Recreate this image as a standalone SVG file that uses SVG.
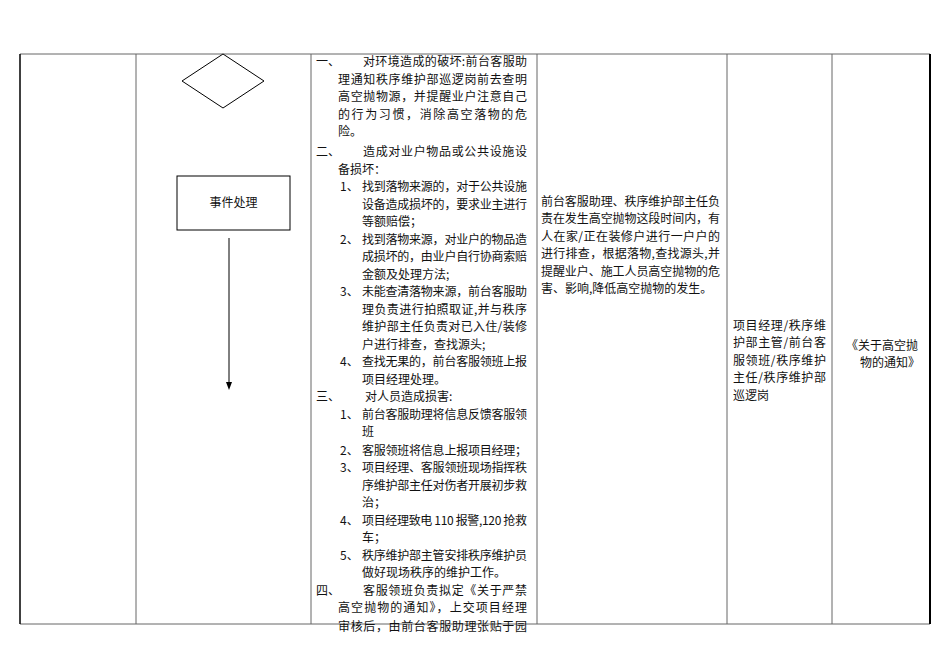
<svg xmlns="http://www.w3.org/2000/svg" width="950" height="672" viewBox="0 0 950 672">
<style>
.t{font-family:"Noto Sans CJK SC","Liberation Serif",serif;font-size:12px;fill:#111}
.g{stroke:#666;stroke-width:1;fill:none}
.s{stroke:#000;stroke-width:1;fill:#fff}
</style>
<defs><marker id="ah" markerWidth="8" markerHeight="8" refX="4" refY="7" orient="auto" markerUnits="userSpaceOnUse"><path d="M0,0 L4,8 L8,0 Z" transform="rotate(-90 4 4)" fill="#000"/></marker></defs>
<rect width="950" height="672" fill="#fff"/>
<g id="table">
<line class="g" x1="20" y1="54" x2="930" y2="54"/>
<line class="g" x1="20" y1="624" x2="930" y2="624" stroke="#999"/>
<line x1="20" y1="54" x2="20" y2="624" stroke="#000" stroke-width="1.5"/>
<line class="g" x1="136" y1="54" x2="136" y2="624"/>
<line class="g" x1="311" y1="54" x2="311" y2="624"/>
<line class="g" x1="537" y1="54" x2="537" y2="624"/>
<line class="g" x1="727" y1="54" x2="727" y2="624"/>
<line class="g" x1="832" y1="54" x2="832" y2="624" stroke="#aaa"/>
<line x1="930" y1="54" x2="930" y2="624" stroke="#000" stroke-width="2"/>
</g>
<g id="decision"><polygon class="s" points="223,54 264,81 223,108 182,81"/></g>
<g id="process"><rect class="s" x="177" y="176" width="113" height="54"/><text class="t" x="233.5" y="207" text-anchor="middle">事件处理</text></g>
<g id="connectors"><line x1="229" y1="238" x2="229" y2="384" stroke="#000" stroke-width="1"/><path d="M226,382 L229,390 L232,382 Z" fill="#000"/></g>
<g id="steps" class="t">
<text x="316" y="66">一、</text><text x="363" y="66" textLength="164">对环境造成的破坏:前台客服助</text>
<text x="338" y="84" textLength="189">理通知秩序维护部巡逻岗前去查明</text>
<text x="338" y="101" textLength="189">高空抛物源，并提醒业户注意自己</text>
<text x="338" y="119" textLength="189">的行为习惯，消除高空落物的危</text>
<text x="338" y="136">险。</text>
<text x="316" y="156">二、</text><text x="363" y="156" textLength="164">造成对业户物品或公共设施设</text>
<text x="338" y="174">备损坏：</text>
<text x="340" y="191">1、</text><text x="362" y="191" textLength="165">找到落物来源的，对于公共设施</text>
<text x="362" y="209" textLength="165">设备造成损坏的，要求业主进行</text>
<text x="362" y="226">等额赔偿；</text>
<text x="340" y="244">2、</text><text x="362" y="244" textLength="165">找到落物来源，对业户的物品造</text>
<text x="362" y="261" textLength="165">成损坏的，由业户自行协商索赔</text>
<text x="362" y="279">金额及处理方法;</text>
<text x="340" y="296">3、</text><text x="362" y="296" textLength="165">未能查清落物来源，前台客服助</text>
<text x="362" y="314" textLength="165">理负责进行拍照取证,并与秩序</text>
<text x="362" y="331" textLength="165">维护部主任负责对已入住/装修</text>
<text x="362" y="349">户进行排查，查找源头;</text>
<text x="340" y="366">4、</text><text x="362" y="366" textLength="165">查找无果的，前台客服领班上报</text>
<text x="362" y="384">项目经理处理。</text>
<text x="316" y="401">三、</text><text x="365" y="401">对人员造成损害:</text>
<text x="340" y="419">1、</text><text x="362" y="419" textLength="165">前台客服助理将信息反馈客服领</text>
<text x="362" y="436">班</text>
<text x="340" y="455">2、</text><text x="362" y="455" textLength="165">客服领班将信息上报项目经理；</text>
<text x="340" y="472">3、</text><text x="362" y="472" textLength="165">项目经理、客服领班现场指挥秩</text>
<text x="362" y="490" textLength="165">序维护部主任对伤者开展初步救</text>
<text x="362" y="507">治；</text>
<text x="340" y="525">4、</text><text x="362" y="525" textLength="165">项目经理致电 110 报警,120 抢救</text>
<text x="362" y="542">车；</text>
<text x="340" y="560">5、</text><text x="362" y="560" textLength="165">秩序维护部主管安排秩序维护员</text>
<text x="362" y="577">做好现场秩序的维护工作。</text>
<text x="316" y="595">四、</text><text x="363" y="595" textLength="164">客服领班负责拟定《关于严禁</text>
<text x="338" y="612" textLength="189">高空抛物的通知》，上交项目经理</text>
<text x="338" y="631" textLength="189">审核后，由前台客服助理张贴于园</text>
</g>
<g id="desc" class="t">
<text x="541" y="206" textLength="179">前台客服助理、秩序维护部主任负</text>
<text x="541" y="223" textLength="179">责在发生高空抛物这段时间内，有</text>
<text x="541" y="241" textLength="179">人在家/正在装修户进行一户户的</text>
<text x="541" y="258" textLength="179">进行排查，根据落物,查找源头,并</text>
<text x="541" y="276" textLength="179">提醒业户、施工人员高空抛物的危</text>
<text x="541" y="293">害、影响,降低高空抛物的发生。</text>
</g>
<g id="roles" class="t">
<text x="733" y="330" textLength="93">项目经理/秩序维</text>
<text x="733" y="347" textLength="93">护部主管/前台客</text>
<text x="733" y="365" textLength="93">服领班/秩序维护</text>
<text x="733" y="382" textLength="93">主任/秩序维护部</text>
<text x="733" y="400">巡逻岗</text>
</g>
<g id="docs" class="t">
<text x="846" y="350">《关于高空抛</text>
<text x="860" y="367">物的通知》</text>
</g>
</svg>
